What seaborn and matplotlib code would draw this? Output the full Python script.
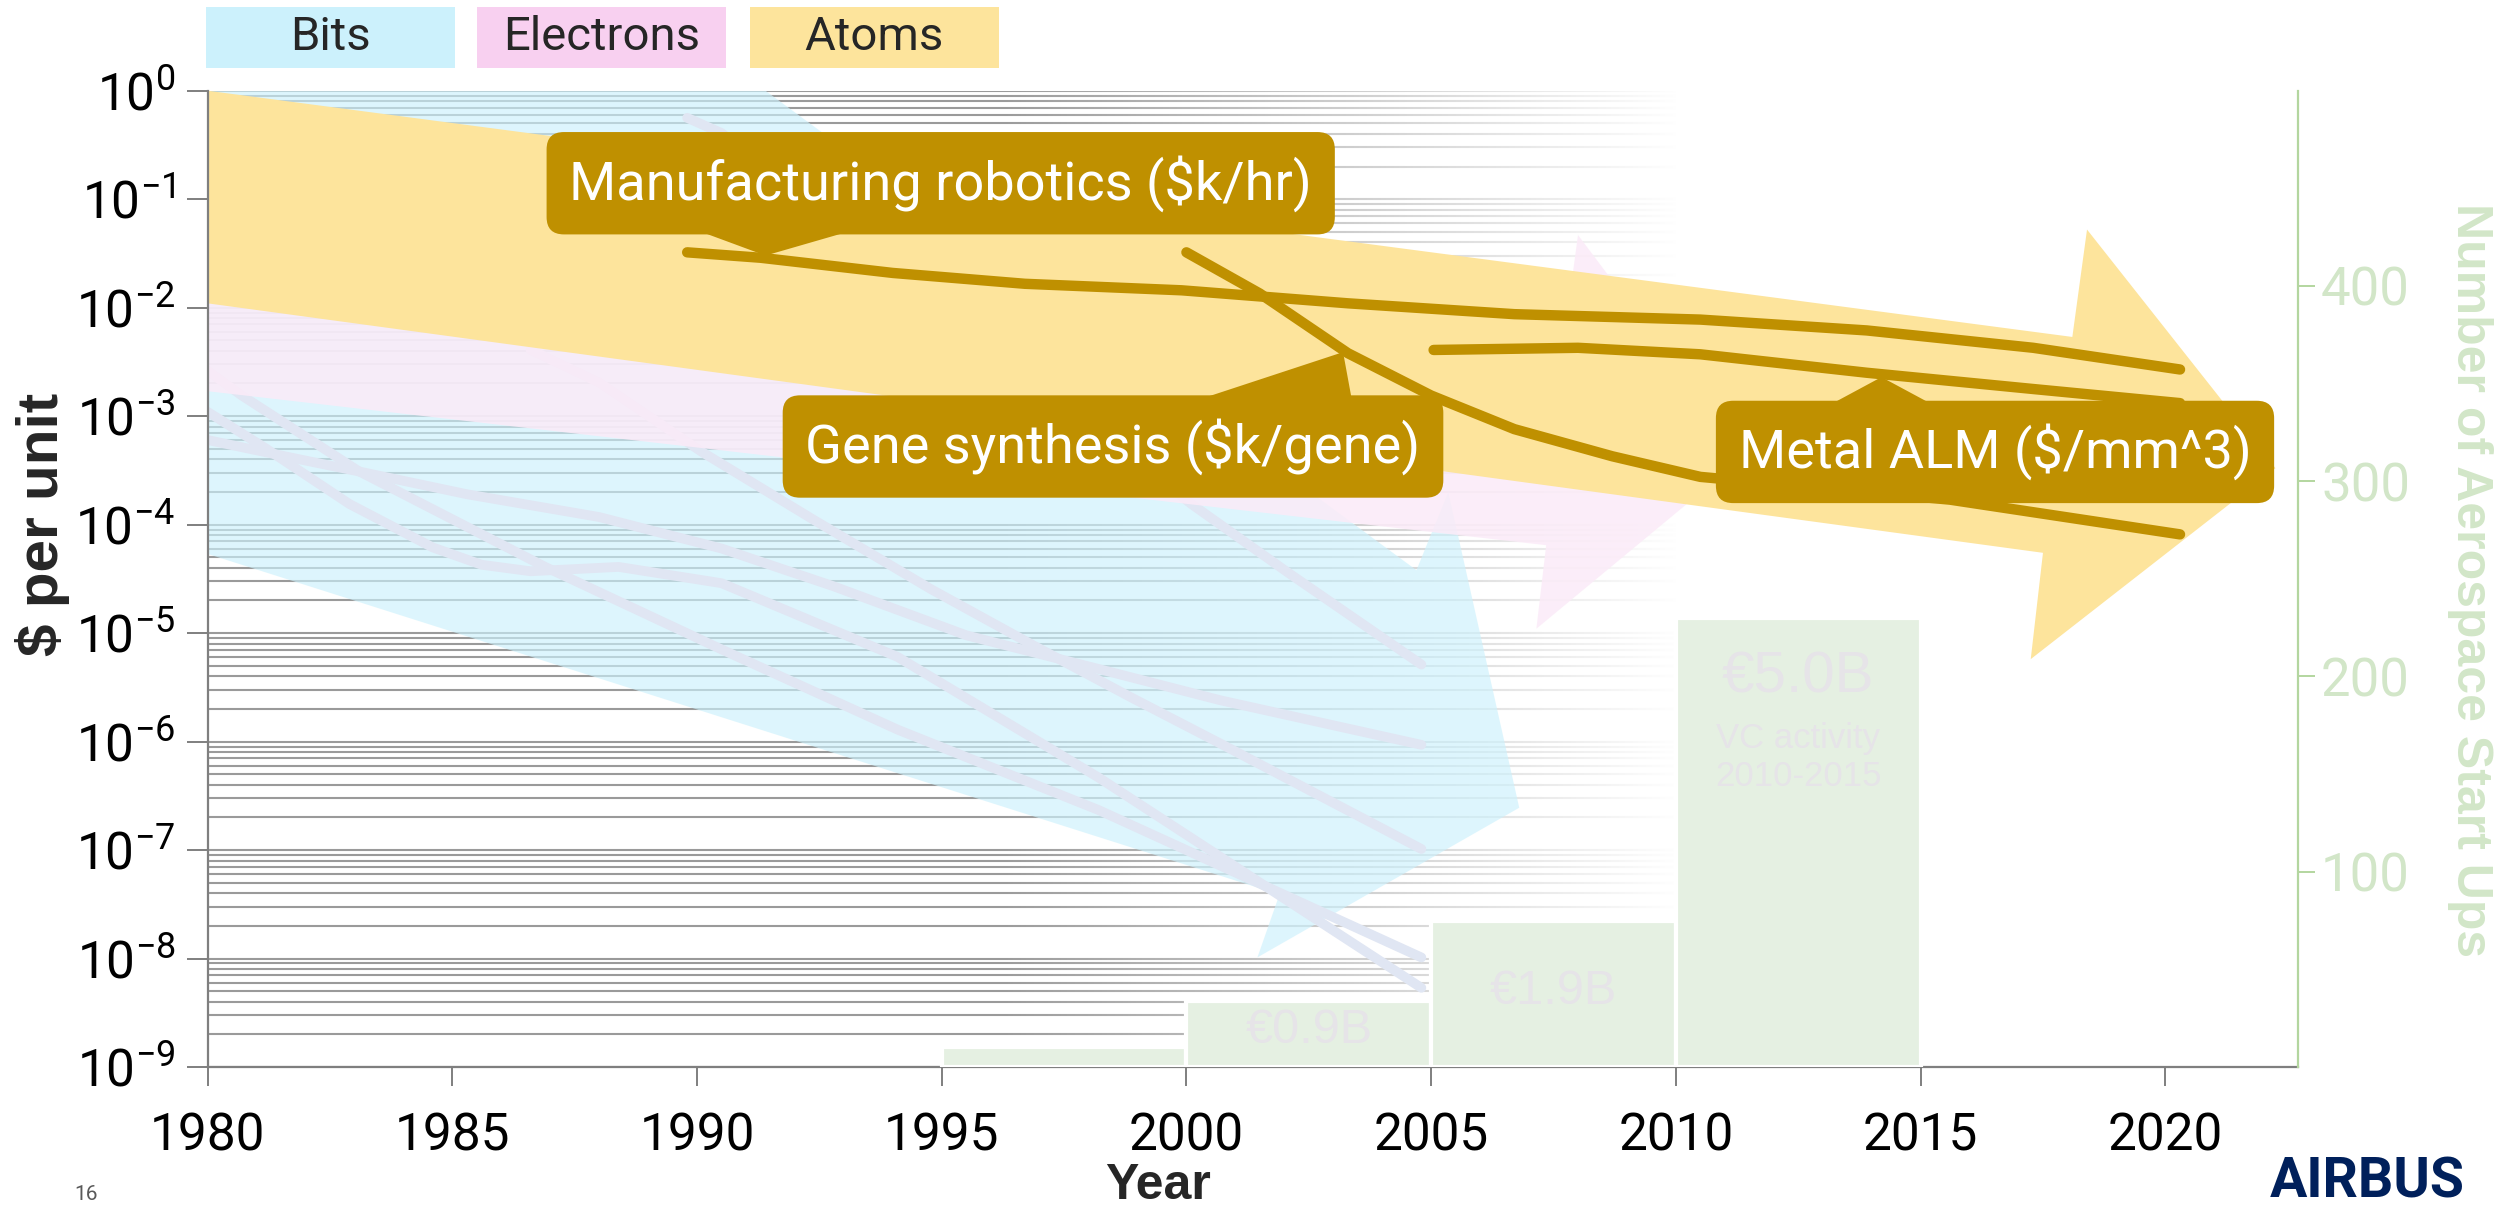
import numpy as np
import pandas as pd
import matplotlib
matplotlib.use("Agg")
import matplotlib.pyplot as plt
from matplotlib.patches import Rectangle, Polygon
from matplotlib.ticker import LogLocator, FixedLocator, NullFormatter
import seaborn as sns

# ---------------- data ----------------
x_ticks = [1980, 1985, 1990, 1995, 2000, 2005, 2010, 2015, 2020]

# faint "bits" cost curves, log10($ per unit)
bits_0_year = [1989.8, 1990.5, 2000.1, 2002.1, 2004.8]
bits_0_log = [-0.25, -0.39, -3.81, -4.45, -5.29]
bits_1_year = [1980.0, 1980.7, 1983.1, 1985.3, 1986.9, 1990.5, 1994.1, 1998.2, 2004.8]
bits_1_log = [-2.58, -2.81, -3.51, -4.02, -4.39, -5.15, -5.89, -6.63, -7.99]
bits_2_year = [1980.0, 1981.2, 1982.9, 1984.6, 1985.6, 1986.6, 1988.4, 1990.5, 1994.1, 1998.2, 2004.8]
bits_2_log = [-2.96, -3.30, -3.81, -4.21, -4.37, -4.43, -4.39, -4.54, -5.22, -6.33, -8.27]
bits_3_year = [1980.0, 1981.9, 1983.2, 1985.3, 1988.0, 1990.5, 1992.8, 1995.5, 1998.2, 2000.7, 2004.8]
bits_3_log = [-3.22, -3.40, -3.52, -3.72, -3.93, -4.22, -4.57, -5.02, -5.33, -5.62, -6.03]
bits_4_year = [1986.6, 1988.0, 1990.1, 1992.4, 1994.8, 1996.9, 1998.9, 2000.7, 2004.8]
bits_4_log = [-2.39, -2.69, -3.33, -3.96, -4.60, -5.12, -5.60, -6.02, -6.99]

# "atoms" cost curves
robotics_year = [1989.8, 1991.3, 1994.0, 1996.7, 1999.9, 2003.3, 2006.7, 2010.5, 2013.9, 2017.3, 2020.3]
robotics_log = [-1.49, -1.54, -1.68, -1.78, -1.84, -1.96, -2.06, -2.11, -2.21, -2.37, -2.57]
gene_year = [2000.0, 2001.5, 2003.3, 2005.0, 2006.7, 2008.7, 2010.5, 2015.6, 2020.3]
gene_log = [-1.49, -1.87, -2.42, -2.81, -3.12, -3.37, -3.56, -3.77, -4.09]
alm_year = [2005.05, 2008.0, 2010.5, 2013.9, 2017.3, 2020.3]
alm_log = [-2.39, -2.37, -2.43, -2.60, -2.75, -2.88]

# trend arrows (outline vertices, year / log10)
bits_band_year = [1980.0, 1991.4, 2004.7, 2005.35, 2006.8, 2001.45, 2001.9, 1980.0]
bits_band_log = [0.0, 0.0, -4.42, -3.70, -6.61, -7.99, -7.41, -4.27]
electrons_band_year = [1980.0, 2007.8, 2008.0, 2011.4, 2007.15, 2007.35, 1980.0]
electrons_band_log = [-1.0, -2.0, -1.33, -3.37, -4.96, -4.19, -2.77]
atoms_band_year = [1980.0, 2018.1, 2018.4, 2022.25, 2017.25, 2017.5, 1980.0]
atoms_band_log = [0.0, -2.27, -1.28, -3.48, -5.24, -4.26, -1.96]

# aerospace start ups (right axis) and VC activity
vc_edges = [1995, 2000, 2005, 2010, 2015]
startups = [10, 34, 75, 230]
vc_amounts = ["", "€0.9B", "€1.9B", "€5.0B"]

categories = ["Bits", "Electrons", "Atoms"]

# ---------------- style ----------------
gold = "#bf9000"
lavender = "#e0e6f3"
key_colors = ["#ccf1fc", "#f8d0f0", "#fde49c"]
bar_green = "#e5f0e2"
axis_green = "#b3d69f"
label_green = "#d2e6c8"
grey = "#7f7f7f"

sns.set_theme(style="white")
plt.rcParams["font.family"] = ["Roboto", "DejaVu Sans"]
plt.rcParams["mathtext.fontset"] = "custom"
plt.rcParams["mathtext.rm"] = "Roboto"
plt.rcParams["mathtext.it"] = "Roboto"
plt.rcParams["mathtext.default"] = "regular"

W, H = 2509, 1209
fig = plt.figure(figsize=(W / 100, H / 100), dpi=100)
ax = fig.add_axes([207.5 / W, 1 - 1067 / H, 2090 / W, 976.3 / H])
ax.set_yscale("log")
ax.set_xlim(1980, 2022.7)
ax.set_ylim(1e-9, 1)
ax.set_autoscale_on(False)

# grid, fading out to the right
ax.set_axisbelow(True)
ax.yaxis.set_major_locator(LogLocator(base=10, numticks=20))
ax.yaxis.set_minor_locator(LogLocator(base=10, subs=np.arange(2, 10), numticks=20))
ax.yaxis.set_minor_formatter(NullFormatter())
ax.grid(which="both", axis="y", color="#9a9a9a", lw=1.5)
ax.grid(which="both", axis="x", visible=False)
ramp_x = np.linspace(1980, 2022.7, 600)
fade = np.ones((1, 600, 4))
fade[..., 3] = np.clip((ramp_x - 1996) / 14, 0, 1)
ax.imshow(fade, extent=[0, 1, 0, 1], transform=ax.transAxes, aspect="auto",
          interpolation="bilinear", zorder=0.8)
ax.set_xlim(1980, 2022.7)
ax.set_ylim(1e-9, 1)

# trend arrows
ax.fill(bits_band_year, 10 ** np.array(bits_band_log), color=key_colors[0], alpha=0.65, lw=0, zorder=1)
ax.fill(electrons_band_year, 10 ** np.array(electrons_band_log), color="#fbebf8", alpha=0.86, lw=0, zorder=1.8)
ax.fill(atoms_band_year, 10 ** np.array(atoms_band_log), color=key_colors[2], lw=0, zorder=2)

# bits curves
bits = [(bits_0_year, bits_0_log), (bits_1_year, bits_1_log), (bits_2_year, bits_2_log),
        (bits_3_year, bits_3_log), (bits_4_year, bits_4_log)]
bits_df = pd.concat([pd.DataFrame({"year": yr, "cost": 10 ** np.array(lg), "curve": i})
                     for i, (yr, lg) in enumerate(bits)])
sns.lineplot(data=bits_df, x="year", y="cost", units="curve", estimator=None, sort=False,
             color=lavender, lw=7, solid_capstyle="round", ax=ax, zorder=1.5)

# atoms curves
atoms = [(robotics_year, robotics_log), (gene_year, gene_log), (alm_year, alm_log)]
atoms_df = pd.concat([pd.DataFrame({"year": yr, "cost": 10 ** np.array(lg), "curve": i})
                      for i, (yr, lg) in enumerate(atoms)])
sns.lineplot(data=atoms_df, x="year", y="cost", units="curve", estimator=None, sort=False,
             color=gold, lw=7.5, solid_capstyle="round", ax=ax, zorder=3)

# callouts
callouts = [
    ("Manufacturing robotics ($k/hr)", 1994.98, -0.853,
     [(1989.6, -1.22), (1993.7, -1.22), (1991.4, -1.52)]),
    ("Gene synthesis ($k/gene)", 1998.5, -3.28,
     [(1999.9, -2.90), (2003.2, -2.41), (2003.4, -2.90)]),
    ("Metal ALM ($/mm^3)", 2016.52, -3.33,
     [(2012.8, -2.98), (2015.6, -2.98), (2014.2, -2.64)]),
]
for label, cx, cy, ptr in callouts:
    ax.add_patch(Polygon([(px, 10 ** py) for px, py in ptr], closed=True,
                         fc=gold, ec="none", zorder=3.5))
    ax.text(cx, 10 ** cy, label, ha="center", va="center", color="white", fontsize=39,
            parse_math=False, zorder=4,
            bbox=dict(boxstyle="round,pad=0.42,rounding_size=0.32", fc=gold, ec="none"))

# axes cosmetics
ax.set_xticks(x_ticks)
ax.set_xlabel("")
ax.set_ylabel("")
for side in ["top", "right"]:
    ax.spines[side].set_visible(False)
for side in ["left", "bottom"]:
    ax.spines[side].set_color(grey)
    ax.spines[side].set_linewidth(1.6)
ax.tick_params(axis="x", which="major", length=14, width=1.4, color=grey, pad=18,
               labelsize=37, labelcolor="black", bottom=True)
ax.tick_params(axis="y", which="major", length=15, width=1.4, color=grey, pad=8,
               labelsize=37, labelcolor="black", left=True)
ax.tick_params(axis="y", which="minor", length=0)

# right axis: aerospace start ups
ax2 = ax.twinx()
centers = [(a + b) / 2 for a, b in zip(vc_edges[:-1], vc_edges[1:])]
sns.histplot(x=centers, weights=startups, bins=vc_edges, ax=ax2, color=bar_green,
             alpha=1, edgecolor="white", linewidth=3)
ax2.set_ylim(0, 500)
ax2.set_xlim(1980, 2022.7)
ax2.yaxis.set_major_locator(FixedLocator([100, 200, 300, 400]))
ax2.set_ylabel("")
for side in ["top", "left", "bottom"]:
    ax2.spines[side].set_visible(False)
ax2.spines["right"].set_color(axis_green)
ax2.spines["right"].set_linewidth(1.6)
ax2.tick_params(axis="y", length=12, width=1.4, color=axis_green, pad=5,
                labelsize=38, labelcolor=label_green, right=True)
ax2.grid(False)

bar_text = "#e6e4e8"
label_vals = [None, 18.5, 38.5, 199.5]
for c, amount, v in zip(centers, vc_amounts, label_vals):
    if amount:
        size = 42 if amount == "€5.0B" else 35
        ax2.text(c, v, amount, ha="center", va="center", fontsize=size, color=bar_text,
                 family="Liberation Sans")
ax2.text(centers[-1], 168, "VC activity", ha="center", va="center", fontsize=25,
         color=bar_text, family="Liberation Sans")
ax2.text(centers[-1], 149, "2010-2015", ha="center", va="center", fontsize=25,
         color=bar_text, family="Liberation Sans")

# axis titles
fig.text(42 / W, 1 - 524 / H, "$ per unit", rotation=90, ha="center", va="center",
         fontsize=42, fontweight="bold", family="Liberation Sans", parse_math=False)
fig.text(1158 / W, 1 - 1186 / H, "Year", ha="center", va="center",
         fontsize=36, fontweight="bold", family="Liberation Sans")
fig.text(2470 / W, 1 - 580 / H, "Number of Aerospace Start Ups", rotation=270,
         ha="center", va="center", fontsize=36, fontweight="bold",
         family="Liberation Sans", color=label_green)

# category key at the top
key_left = [205.6, 477.0, 749.5]
for name, col, x0 in zip(categories, key_colors, key_left):
    fig.add_artist(Rectangle((x0 / W, 1 - 67.7 / H), 249 / W, 61 / H,
                             transform=fig.transFigure, fc=col, ec="none"))
    fig.text((x0 + 124.5) / W, 1 - 37 / H, name, ha="center", va="center", fontsize=34)

# footer
fig.text(86 / W, 1 - 1194 / H, "16", ha="center", va="center", fontsize=15, color="#595959")
fig.text(2367 / W, 1 - 1182 / H, "AIRBUS", ha="center", va="center", fontsize=40,
         fontweight="bold", color="#00205b")

fig.savefig("out.png", dpi=100)
